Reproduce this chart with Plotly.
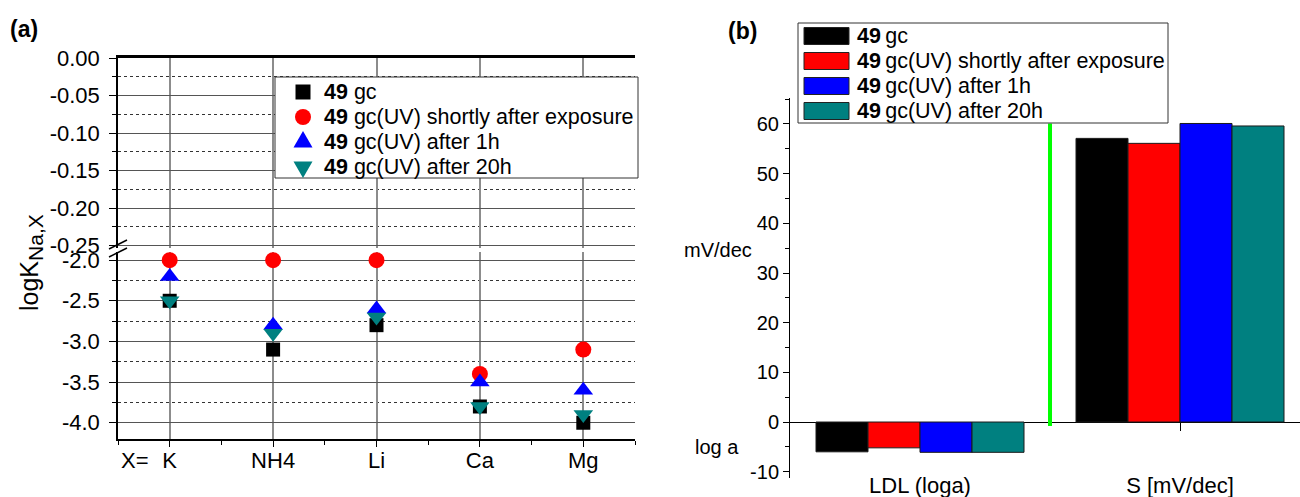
import plotly.graph_objects as go

W, H = 1300, 497


def px(x):
    return x / W


def py(y):
    return 1 - y / H


# ---------------- data ----------------
ions = ["K", "NH4", "Li", "Ca", "Mg"]
series_labels = ["gc", "gc(UV) shortly after exposure", "gc(UV) after 1h", "gc(UV) after 20h"]
logK_gc = [-2.5, -3.1, -2.8, -3.8, -4.0]
logK_uv0 = [-2.0, -2.0, -2.0, -3.4, -3.1]
logK_uv1 = [-2.2, -2.8, -2.6, -3.5, -3.6]
logK_uv20 = [-2.5, -2.9, -2.7, -3.8, -3.9]

params = ["LDL (loga)", "S [mV/dec]"]
bar_gc = [-6.0, 57.1]
bar_uv0 = [-5.2, 56.1]
bar_uv1 = [-6.1, 60.1]
bar_uv20 = [-6.1, 59.6]

upper_ticks = [0.00, -0.05, -0.10, -0.15, -0.20, -0.25]
upper_minor = [-0.025, -0.075, -0.125, -0.175, -0.225]
lower_ticks = [-2.0, -2.5, -3.0, -3.5, -4.0]
lower_minor = [-2.25, -2.75, -3.25, -3.75]
right_ticks = [-10, 0, 10, 20, 30, 40, 50, 60]
right_minor = [-5, 5, 15, 25, 35, 45, 55, 65]

colors = ["#000000", "#ff0000", "#0000ff", "#008080"]
symbols = ["square", "circle", "triangle-up", "triangle-down"]
sizes = [14, 16, 17, 17]

FONT = "Arial, Liberation Sans, sans-serif"

fig = go.Figure()

xi = list(range(len(ions)))
for name, vals, c, s, sz in zip(series_labels, [logK_gc, logK_uv0, logK_uv1, logK_uv20], colors, symbols, sizes):
    fig.add_trace(go.Scatter(
        x=xi, y=vals, mode="markers", name=name,
        marker=dict(color=c, symbol=s, size=sz, line=dict(width=0)),
        xaxis="x", yaxis="y", showlegend=False,
    ))
# empty trace so that the upper (broken) segment exists
fig.add_trace(go.Scatter(x=xi, y=[None] * len(xi), mode="markers", showlegend=False,
                         xaxis="x2", yaxis="y2", hoverinfo="skip"))

for name, vals, c in zip(series_labels, [bar_gc, bar_uv0, bar_uv1, bar_uv20], colors):
    fig.add_trace(go.Bar(
        x=params, y=vals, name=name, marker=dict(color=c, line=dict(color="#1a1a1a", width=1)),
        xaxis="x3", yaxis="y3", showlegend=False,
    ))

grid_major = "#555555"
grid_minor = "#333333"
vgrid = "#8c8c8c"

xl_dom = [px(118), px(635)]

fig.update_layout(
    width=W, height=H,
    margin=dict(l=0, r=0, t=0, b=0),
    paper_bgcolor="white", plot_bgcolor="white",
    font=dict(family=FONT, color="black"),
    showlegend=False,
    barmode="group", bargap=0.2, bargroupgap=0.0,
    xaxis=dict(
        domain=xl_dom, anchor="y", range=[-0.5, len(ions) - 0.5],
        tickmode="array", tickvals=xi, ticktext=ions,
        ticks="outside", ticklen=6, tickcolor="black",
        showline=True, linecolor="black", linewidth=1.5,
        showgrid=True, gridcolor=vgrid, gridwidth=1.5, zeroline=False,
        minor=dict(tickmode="array", tickvals=[i + 0.5 for i in range(-1, len(ions))],
                   ticks="outside", ticklen=4, tickcolor="black", showgrid=False),
        tickfont=dict(size=22), ticklabelstandoff=-5, automargin=False,
    ),
    xaxis2=dict(
        domain=xl_dom, anchor="y2", matches="x", side="top",
        tickmode="array", tickvals=xi, showticklabels=False, ticks="",
        showline=True, linecolor="black", linewidth=3,
        showgrid=True, gridcolor=vgrid, gridwidth=1.5, zeroline=False, automargin=False,
    ),
    yaxis=dict(
        domain=[py(439), py(252)], anchor="x", range=[-4.2, -1.9],
        tickmode="array", tickvals=lower_ticks, ticktext=[f"{v:.1f}" for v in lower_ticks],
        ticks="outside", ticklen=7, tickcolor="black",
        showline=True, linecolor="black", linewidth=1.5,
        showgrid=True, gridcolor=grid_major, gridwidth=1, zeroline=False,
        minor=dict(tickmode="array", tickvals=lower_minor, ticks="outside", ticklen=4,
                   tickcolor="black", showgrid=True, griddash="dot", gridcolor=grid_minor, gridwidth=1),
        tickfont=dict(size=22), ticklabelstandoff=5, automargin=False,
    ),
    yaxis2=dict(
        domain=[py(248), py(58)], anchor="x2", range=[-0.253, 0],
        tickmode="array", tickvals=upper_ticks, ticktext=[f"{v:.2f}" for v in upper_ticks],
        ticks="outside", ticklen=7, tickcolor="black",
        showline=True, linecolor="black", linewidth=1.5,
        showgrid=True, gridcolor=grid_major, gridwidth=1, zeroline=False,
        minor=dict(tickmode="array", tickvals=upper_minor, ticks="outside", ticklen=4,
                   tickcolor="black", showgrid=True, griddash="dot", gridcolor=grid_minor, gridwidth=1),
        tickfont=dict(size=22), ticklabelstandoff=5, automargin=False,
    ),
    xaxis3=dict(
        domain=[px(790), 1.0], anchor="free", position=py(422),
        range=[-0.5, 1.4615], type="category",
        ticks="outside", ticklen=8, tickcolor="black",
        showline=True, linecolor="black", linewidth=1,
        showgrid=False, zeroline=False, layer="below traces",
        tickfont=dict(size=22), ticklabelstandoff=36, automargin=False,
    ),
    yaxis3=dict(
        domain=[py(478), py(98)], anchor="x3", range=[-11.27, 65.23],
        tickmode="array", tickvals=right_ticks, ticktext=[str(v) for v in right_ticks],
        ticks="outside", ticklen=6, tickcolor="black",
        showline=True, linecolor="black", linewidth=1,
        showgrid=False, zeroline=False,
        minor=dict(tickmode="array", tickvals=right_minor, ticks="outside", ticklen=4, tickcolor="black"),
        tickfont=dict(size=20), automargin=False,
    ),
)

shapes = []
annotations = []
# break marks on the left y axis
for dy in (0, 8):
    shapes.append(dict(type="line", xref="paper", yref="paper",
                       x0=px(109), y0=py(249 + dy), x1=px(127), y1=py(240 + dy),
                       line=dict(color="black", width=1.5)))
# green separator in panel (b)
shapes.append(dict(type="line", xref="x3", yref="y3", x0=0.5, x1=0.5, y0=-0.8,
                   y1=max(bar_uv1 + bar_gc + bar_uv0 + bar_uv20),
                   line=dict(color="#00ff00", width=4)))

# legend box for panel (a)
shapes.append(dict(type="rect", xref="paper", yref="paper",
                   x0=px(275), x1=px(638), y0=py(178), y1=py(77),
                   line=dict(color="#333333", width=1), fillcolor="white"))
rowa = [92, 117, 142, 167]
key_paths = {
    "triangle-up": "M -9.5,-5.5 L 9.5,-5.5 L 0,11 Z",
    "triangle-down": "M -9.5,5.5 L 9.5,5.5 L 0,-11 Z",
}
for name, c, s, yy in zip(series_labels, colors, symbols, rowa):
    base = dict(xref="paper", yref="paper", xsizemode="pixel", ysizemode="pixel",
                xanchor=px(303), yanchor=py(yy), fillcolor=c, line=dict(width=0))
    if s == "square":
        shapes.append(dict(type="rect", x0=-7.5, x1=7.5, y0=-7.5, y1=7.5, **base))
    elif s == "circle":
        shapes.append(dict(type="circle", x0=-8, x1=8, y0=-8, y1=8, **base))
    else:
        shapes.append(dict(type="path", path=key_paths[s], **base))
    annotations.append(dict(x=px(322), y=py(yy), xref="paper", yref="paper",
                            xanchor="left", yanchor="middle", showarrow=False,
                            text="<b>49</b> " + name, font=dict(size=21.5, family=FONT)))

# legend box for panel (b)
shapes.append(dict(type="rect", xref="paper", yref="paper",
                   x0=px(798), x1=px(1168), y0=py(123), y1=py(23),
                   line=dict(color="#333333", width=1), fillcolor="white"))
rowb = [36, 61, 86, 111]
for name, c, yy in zip(series_labels, colors, rowb):
    shapes.append(dict(type="rect", xref="paper", yref="paper",
                       x0=px(804), x1=px(849), y0=py(yy + 8.5), y1=py(yy - 8.5),
                       line=dict(color="#222222", width=1), fillcolor=c))
    annotations.append(dict(x=px(855), y=py(yy), xref="paper", yref="paper",
                            xanchor="left", yanchor="middle", showarrow=False,
                            text="<b>49</b>\u2009" + name, font=dict(size=21.5, family=FONT)))

annotations += [
    dict(x=px(8), y=py(29), xref="paper", yref="paper", xanchor="left", yanchor="middle",
         showarrow=False, text="<b>(a)</b>", font=dict(size=23)),
    dict(x=px(726), y=py(31), xref="paper", yref="paper", xanchor="left", yanchor="middle",
         showarrow=False, text="<b>(b)</b>", font=dict(size=23)),
    dict(x=px(31), y=py(263), xref="paper", yref="paper", xanchor="center", yanchor="middle",
         showarrow=False, textangle=-90,
         text="logK<sub><span style='font-size:21px'>Na,X</span></sub>", font=dict(size=25)),
    dict(x=px(135), y=py(460), xref="paper", yref="paper", xanchor="center", yanchor="middle",
         showarrow=False, text="X=", font=dict(size=22)),
    dict(x=px(718), y=py(250), xref="paper", yref="paper", xanchor="center", yanchor="middle",
         showarrow=False, text="mV/dec", font=dict(size=20)),
    dict(x=px(717), y=py(447), xref="paper", yref="paper", xanchor="center", yanchor="middle",
         showarrow=False, text="log a", font=dict(size=20)),
]

fig.update_layout(shapes=shapes, annotations=annotations)

fig.write_html("out.html", config={"displayModeBar": False},
               post_script="document.body.style.margin='0';")
